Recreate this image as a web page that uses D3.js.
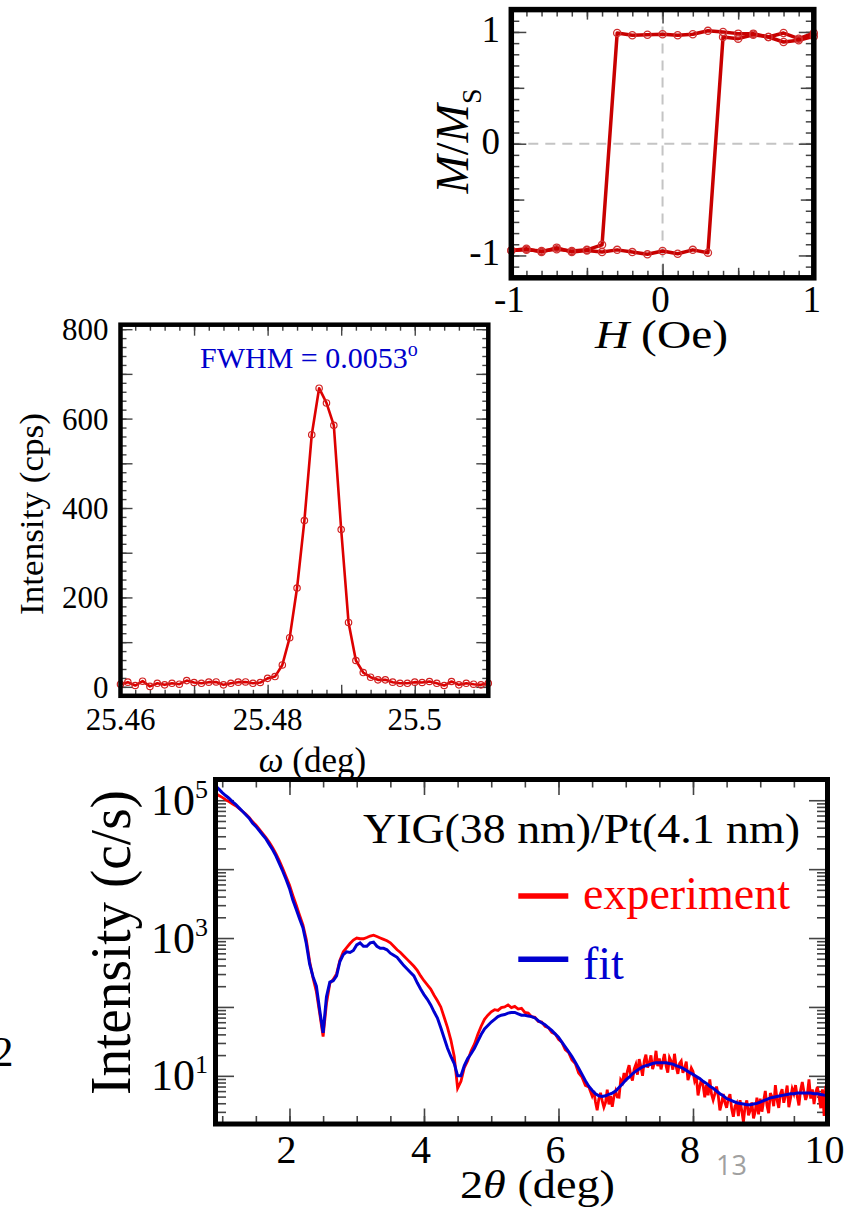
<!DOCTYPE html>
<html>
<head>
<meta charset="utf-8">
<script src="https://cdn.jsdelivr.net/npm/d3@7"></script>
<style>
  body { margin: 0; background: #fff; }
  svg { display: block; font-family: "Liberation Serif", "Times New Roman", serif; }
</style>
</head>
<body>
<svg id="canvas" width="854" height="1212"></svg>
<script>
// ---------- data ----------

// hysteresis loop, field sweep down then back up
const loopDownH = [1, 0.9, 0.8, 0.7, 0.6, 0.5, 0.4, 0.3, 0.2, 0.1, 0, -0.1, -0.2, -0.3, -0.4, -0.5, -0.6, -0.7, -0.8, -0.9, -1];
const loopDownM = [0.99, 0.94, 0.99, 0.955, 0.985, 0.985, 1.0, 1.01, 0.98, 0.97, 0.98, 0.975, 0.97, 0.99,
                   -0.905, -0.95, -0.96, -0.945, -0.96, -0.95, -0.955];
const loopUpH = [-1, -0.9, -0.8, -0.7, -0.6, -0.5, -0.4, -0.3, -0.2, -0.1, 0, 0.1, 0.2, 0.3, 0.4, 0.5, 0.6, 0.7, 0.8, 0.9, 1];
const loopUpM = [-0.955, -0.94, -0.97, -0.93, -0.97, -0.955, -0.97, -0.95, -0.97, -0.99, -0.96, -0.985, -0.95, -0.975,
                 0.955, 0.94, 0.975, 0.955, 0.91, 0.925, 0.96];

// rocking curve, omega from 25.460 in steps of 0.001 deg
const omegaStart = 25.46, omegaStep = 0.001;
const rockCps = [6, 10.5, 3, 12.7, 1, 8, 4.5, 8, 6, 14,
                 9.7, 8, 10.5, 11, 4.5, 8, 10.5, 11, 8, 9.7,
                 19, 23, 49, 110, 221, 372, 564, 668, 635, 585,
                 352, 144, 59, 32, 21.6, 15.7, 15.7, 10.5, 8, 8,
                 10.5, 9.7, 12, 8, 3, 12, 4.5, 8, 6, 4.5, 8];

// reflectivity fit, 2theta from 0.90 in steps of 0.05
const fitStart = 0.9, fitStep = 0.05;
const fitCounts = [
  162000, 145000, 129000, 117000, 107000, 95500, 87100, 77600, 69200, 61700,   // 0.90
  55000, 46800, 41700, 36300, 31600, 27500, 22900, 19100, 15500, 12000,        // 1.40
  9330, 7080, 5250, 3550, 2630, 1910, 1410, 832, 417, 275,                      // 1.90
  200, 89, 42, 141, 229, 240, 282, 457, 575, 631,                               // 2.40
  617, 661, 794, 851, 759, 759, 851, 871, 759, 708,                             // 2.90
  708, 676, 603, 562, 525, 457, 398, 355, 316, 282,                             // 3.40
  224, 182, 151, 129, 107, 85, 69, 50, 35.5, 25.1,                              // 3.90
  19.1, 15.1, 10, 10, 14.1, 17.8, 20.9, 25.1, 31.6, 39.8,                       // 4.40
  47.9, 53.7, 60.3, 66.1, 72.4, 75.9, 77.6, 81.3, 83.2, 83.2,                   // 4.90
  79.4, 75.9, 75.9, 74.1, 72.4, 69.2, 63.1, 58.9, 55.0, 50.1,                   // 5.40
  45.7, 40.7, 36.3, 30.9, 26.3, 22.4, 19.1, 15.8, 12.9, 10.5,                   // 5.90
  8.51, 7.08, 6.17, 5.50, 5.13, 5.01, 5.13, 5.37, 5.62, 6.03,                   // 6.40
  6.76, 7.59, 8.71, 9.55, 10.7, 11.7, 12.6, 13.5, 14.1, 14.5,                   // 6.90
  15.1, 15.5, 15.5, 15.5, 15.5, 15.1, 14.8, 14.1, 13.5, 12.9,                   // 7.40
  12.0, 11.2, 10.5, 9.77, 9.12, 8.32, 7.76, 7.08, 6.61, 6.03,                   // 7.90
  5.50, 5.13, 4.68, 4.47, 4.27, 4.07, 3.98, 3.89, 3.80, 3.80,                   // 8.40
  3.89, 3.98, 4.17, 4.37, 4.57, 4.79, 4.90, 5.01, 5.13, 5.25,                   // 8.90
  5.37, 5.50, 5.50, 5.62, 5.62, 5.62, 5.62, 5.62, 5.50, 5.50,                   // 9.40
  5.37, 5.25, 5.13                                                              // 9.90
];

// measured reflectivity, coarse part: 2theta 0.90 .. 6.45 step 0.05
const expStartA = 0.9, expStepA = 0.05;
const expCountsA = [
  126000, 117000, 110000, 102000, 95500, 89100, 83200, 75900, 69200, 63100,    // 0.90
  56200, 49000, 43700, 38000, 33100, 28800, 24500, 20400, 16600, 13200,        // 1.40
  10200, 7760, 5890, 4170, 3020, 2140, 1550, 955, 457, 263,                     // 1.90
  166, 79.4, 37.2, 112, 219, 251, 302, 479, 631, 724,                           // 2.40
  832, 933, 1000, 977, 977, 1020, 1070, 1100, 1050, 1000,                       // 2.90
  955, 912, 851, 759, 676, 617, 550, 490, 437, 389,                             // 3.40
  339, 282, 240, 209, 182, 148, 123, 100, 70.8, 50.1,                           // 3.90
  33.1, 19.1, 6.61, 8.32, 13.2, 16.6, 22.9, 28.8, 39.8, 52.5,                   // 4.40
  66.1, 75.9, 85.1, 91.2, 89.1, 97.7, 100, 107, 97.7, 102,                      // 4.90
  93.3, 95.5, 83.2, 81.3, 72.4, 70.8, 61.7, 60.3, 52.5, 50.1,                   // 5.40
  42.7, 40.7, 33.9, 30.9, 24.0, 21.9, 17.0, 15.1, 11.0, 9.55,                   // 5.90
  7.24, 6.92                                                                    // 6.40
];
// measured reflectivity, noisy tail: 2theta 6.500 .. 10.000 step 0.025
const expStartB = 6.5, expStepB = 0.025;
const expCountsB = [
  5.13, 6.04, 4.17, 3.17, 4.59, 5.66, 4.33, 3.51, 4.11, 6.31, 3.85, 5.11, 3.55, 5.02, 6.03, 4.93, 4.90, 8.69, 7.94, 11.0,        // 6.5
  8.36, 11.7, 14.3, 10.1, 8.55, 12.5, 14.6, 10.4, 17.5, 13.5, 10.0, 16.5, 20.3, 13.2, 15.5, 19.8, 12.5, 15.2, 23.1, 13.8,        // 7.0
  17.9, 12.4, 16.1, 20.8, 13.9, 11.1, 18.4, 16.3, 12.3, 20.9, 13.6, 10.7, 15.1, 16.4, 11.1, 12.9, 16.1, 8.65, 10.4, 13.0,        // 7.5
  11.6, 8.41, 9.59, 5.19, 6.98, 8.91, 7.21, 4.90, 7.31, 5.22, 8.91, 5.46, 4.47, 5.47, 6.98, 5.20, 3.15, 3.98, 5.47, 4.07,        // 8.0
  3.44, 4.68, 5.40, 3.34, 2.55, 3.61, 4.00, 2.61, 4.43, 3.14, 2.14, 3.62, 4.41, 2.68, 3.16, 4.10, 2.42, 3.01, 4.81, 2.75,        // 8.5
  4.68, 3.02, 4.27, 6.03, 3.72, 2.88, 5.62, 4.95, 3.63, 7.33, 4.47, 3.43, 5.50, 6.38, 4.07, 5.19, 7.24, 3.51, 4.68, 6.46,        // 9.0
  5.50, 7.33, 5.01, 3.72, 6.17, 8.13, 5.89, 4.47, 5.37, 8.91, 4.68, 6.38, 3.89, 5.75, 6.92, 4.95, 3.39, 6.38, 2.63, 7.16,        // 9.5
  2.29                                                                                                                            // 10.0
];

const yDecadeLabels = [1, 3, 5];
const legendNames = ['experiment', 'fit'];

// ---------- drawing ----------
const svg = d3.select('#canvas');

function addTicks(g, x, y, xSets, ySets, color, width) {
  const xr = x.range(), yr = y.range();
  xSets.forEach(s => {
    g.append('g').attr('transform', `translate(0,${yr[0]})`)
      .call(d3.axisBottom(x).tickValues(s.v).tickSize(-s.len).tickFormat(''));
    g.append('g').attr('transform', `translate(0,${yr[1]})`)
      .call(d3.axisTop(x).tickValues(s.v).tickSize(-s.len).tickFormat(''));
  });
  ySets.forEach(s => {
    g.append('g').attr('transform', `translate(${xr[0]},0)`)
      .call(d3.axisLeft(y).tickValues(s.v).tickSize(-s.len).tickFormat(''));
    g.append('g').attr('transform', `translate(${xr[1]},0)`)
      .call(d3.axisRight(y).tickValues(s.v).tickSize(-s.len).tickFormat(''));
  });
  g.selectAll('.domain').remove();
  g.selectAll('.tick line').attr('stroke', color).attr('stroke-width', width);
}

function frame(g, x, y, w) {
  const xr = x.range(), yr = y.range();
  g.append('rect')
    .attr('x', xr[0]).attr('y', yr[1])
    .attr('width', xr[1] - xr[0]).attr('height', yr[0] - yr[1])
    .attr('fill', 'none').attr('stroke', '#000').attr('stroke-width', w);
}

function clipFor(id, x, y) {
  const xr = x.range(), yr = y.range();
  svg.append('clipPath').attr('id', id).append('rect')
    .attr('x', xr[0]).attr('y', yr[1])
    .attr('width', xr[1] - xr[0]).attr('height', yr[0] - yr[1]);
  return `url(#${id})`;
}

// ===== panel 1: M/Ms vs H =====
{
  const x = d3.scaleLinear().domain([-1, 1]).range([511.3, 813.8]);
  const y = d3.scaleLinear().domain([-1.2, 1.2]).range([277.8, 9.6]);
  const g = svg.append('g');

  // dashed zero lines
  g.append('line').attr('x1', x(0)).attr('x2', x(0)).attr('y1', y(1.2)).attr('y2', y(-1.2))
    .attr('stroke', '#c4c4c4').attr('stroke-width', 2).attr('stroke-dasharray', '10,7');
  g.append('line').attr('x1', x(-1)).attr('x2', x(1)).attr('y1', y(0)).attr('y2', y(0))
    .attr('stroke', '#c4c4c4').attr('stroke-width', 2).attr('stroke-dasharray', '10,7');

  const tenths = d3.range(-10, 11).map(i => i / 10);
  const tenthsY = d3.range(-12, 13).map(i => i / 10);
  addTicks(g, x, y,
    [{ v: tenths, len: 7 }, { v: [-0.5, 0.5], len: 10 }, { v: [-1, 0, 1], len: 14 }],
    [{ v: tenthsY, len: 8 }, { v: [-0.5, 0.5], len: 13 }, { v: [-1, 0, 1], len: 15 }],
    '#444', 1.5);

  const down = loopDownH.map((h, i) => ({ h, m: loopDownM[i] }));
  const up = loopUpH.map((h, i) => ({ h, m: loopUpM[i] }));
  const line = d3.line().x(d => x(d.h)).y(d => y(d.m));
  [down, up].forEach(branch => {
    g.append('path').datum(branch).attr('d', line)
      .attr('fill', 'none').attr('stroke', '#c80000').attr('stroke-width', 3.5)
      .attr('stroke-linejoin', 'round');
  });
  g.selectAll('circle.pt').data(down.concat(up)).join('circle')
    .attr('class', 'pt')
    .attr('cx', d => x(d.h)).attr('cy', d => y(d.m)).attr('r', 3.6)
    .attr('fill', 'none').attr('stroke', '#d03030').attr('stroke-width', 1.3);

  frame(g, x, y, 5.5);

  g.selectAll('text.yl').data([1, 0, -1]).join('text').attr('class', 'yl')
    .attr('x', 500).attr('y', d => y(d) + 10)
    .attr('text-anchor', 'end').attr('font-size', 37)
    .text(d => d < 0 ? '-' + Math.abs(d) : d);
  g.selectAll('text.xl').data([-1, 0, 1]).join('text').attr('class', 'xl')
    .attr('x', d => x(d) - 2).attr('y', 311.5)
    .attr('text-anchor', 'middle').attr('font-size', 37)
    .text(d => d < 0 ? '-' + Math.abs(d) : d);

  const xt = g.append('text').attr('x', 661.5).attr('y', 348)
    .attr('text-anchor', 'middle').attr('font-size', 41)
    .attr('textLength', 133).attr('lengthAdjust', 'spacingAndGlyphs');
  xt.append('tspan').attr('font-style', 'italic').text('H');
  xt.append('tspan').text(' (Oe)');

  const yt = g.append('text').attr('transform', 'translate(468,141) rotate(-90)')
    .attr('text-anchor', 'middle').attr('font-size', 46);
  yt.append('tspan').attr('font-style', 'italic').text('M');
  yt.append('tspan').text('/');
  yt.append('tspan').attr('font-style', 'italic').text('M');
  yt.append('tspan').attr('font-size', 28).attr('dy', 13).text('S');
}

// ===== panel 2: rocking curve =====
{
  const x = d3.scaleLinear().domain([25.46, 25.51]).range([120.5, 488.3]);
  const y = d3.scaleLinear().domain([-20, 810]).range([695.8, 324.7]);
  const g = svg.append('g');

  addTicks(g, x, y,
    [{ v: d3.range(0, 26).map(i => 25.46 + i * 0.002), len: 6 },
     { v: d3.range(0, 6).map(i => 25.46 + i * 0.01), len: 11 }],
    [{ v: d3.range(-1, 41).map(i => i * 20), len: 6 },
     { v: d3.range(0, 9).map(i => i * 100), len: 12 }],
    '#444', 1.4);

  const pts = rockCps.map((c, i) => ({ w: omegaStart + i * omegaStep, c }));
  g.append('path').datum(pts)
    .attr('d', d3.line().x(d => x(d.w)).y(d => y(d.c)))
    .attr('fill', 'none').attr('stroke', '#dd0000').attr('stroke-width', 2.6)
    .attr('stroke-linejoin', 'round');
  g.selectAll('circle').data(pts).join('circle')
    .attr('cx', d => x(d.w)).attr('cy', d => y(d.c)).attr('r', 3.2)
    .attr('fill', 'none').attr('stroke', '#d02020').attr('stroke-width', 1.2);

  frame(g, x, y, 4.5);

  g.selectAll('text.yl').data([0, 200, 400, 600, 800]).join('text').attr('class', 'yl')
    .attr('x', 108.5).attr('y', d => y(d) + 11)
    .attr('text-anchor', 'end').attr('font-size', 31).text(d => d);
  g.selectAll('text.xl').data([25.46, 25.48, 25.5]).join('text').attr('class', 'xl')
    .attr('x', d => x(d)).attr('y', 730)
    .attr('text-anchor', 'middle').attr('font-size', 31).text(d => d);

  const ft = g.append('text').attr('x', 200).attr('y', 368.3)
    .attr('font-size', 30).attr('fill', '#0000cc');
  ft.append('tspan').text('FWHM = 0.0053');
  ft.append('tspan').attr('font-size', 20).attr('dy', -12).text('o');

  g.append('text').attr('transform', 'translate(42.5,514) rotate(-90)')
    .attr('text-anchor', 'middle').attr('font-size', 34)
    .attr('textLength', 202).attr('lengthAdjust', 'spacingAndGlyphs')
    .text('Intensity (cps)');

  const xt = g.append('text').attr('x', 312.5).attr('y', 771.5)
    .attr('text-anchor', 'middle').attr('font-size', 35);
  xt.append('tspan').attr('font-style', 'italic').text('\u03c9');
  xt.append('tspan').text(' (deg)');
}

// ===== panel 3: X-ray reflectivity =====
{
  const x = d3.scaleLinear().domain([0.9, 10]).range([215.5, 827.5]);
  const y = d3.scaleLog().domain([2, 200000]).range([1124, 779.5]);
  const g = svg.append('g');

  const minorY = [];
  d3.range(0, 6).forEach(k => d3.range(2, 10).forEach(m => {
    const v = m * Math.pow(10, k);
    if (v >= 2 && v <= 200000) minorY.push(v);
  }));
  addTicks(g, x, y,
    [{ v: d3.range(2, 20).map(i => i / 2), len: 8 }, { v: [2, 4, 6, 8], len: 15.5 }],
    [{ v: minorY, len: 10.5 }, { v: [10, 100, 1000, 10000, 100000], len: 18.5 }],
    '#444', 1.6);

  const clip = clipFor('clip3', x, y);
  const expPts = expCountsA.map((c, i) => ({ t: expStartA + i * expStepA, c }))
    .concat(expCountsB.map((c, i) => ({ t: expStartB + i * expStepB, c })));
  const fitPts = fitCounts.map((c, i) => ({ t: fitStart + i * fitStep, c }));
  const line = d3.line().x(d => x(d.t)).y(d => y(d.c));

  g.append('path').datum(expPts).attr('d', line).attr('clip-path', clip)
    .attr('fill', 'none').attr('stroke', '#ff0000').attr('stroke-width', 2.8);
  g.append('path').datum(fitPts).attr('d', line).attr('clip-path', clip)
    .attr('fill', 'none').attr('stroke', '#0000d0').attr('stroke-width', 3);

  frame(g, x, y, 5);

  // decade labels
  yDecadeLabels.forEach(k => {
    const t = g.append('text').attr('x', 208).attr('y', y(Math.pow(10, k)) + 14.5)
      .attr('text-anchor', 'end');
    t.append('tspan').attr('font-size', 44).text('10');
    t.append('tspan').attr('font-size', 26).attr('dy', -17).text(k);
  });
  g.selectAll('text.xl').data([2, 4, 6, 8, 10]).join('text').attr('class', 'xl')
    .attr('x', d => x(d) - 3).attr('y', 1163)
    .attr('text-anchor', 'middle').attr('font-size', 40).text(d => d);

  g.append('text').attr('x', 363).attr('y', 843)
    .attr('font-size', 43).attr('textLength', 437).attr('lengthAdjust', 'spacingAndGlyphs')
    .text('YIG(38 nm)/Pt(4.1 nm)');

  // legend
  const legColors = ['#ff0000', '#0000d0'];
  const legY = [896, 959.3];
  legendNames.forEach((name, i) => {
    g.append('line').attr('x1', 518.3).attr('x2', 568.3).attr('y1', legY[i]).attr('y2', legY[i])
      .attr('stroke', legColors[i]).attr('stroke-width', 5.5);
    g.append('text').attr('x', 583).attr('y', legY[i] + 12.5 + i * 7.5)
      .attr('font-size', 46).attr('fill', legColors[i]).text(name);
  });

  g.append('text').attr('transform', 'translate(130,942.5) rotate(-90)')
    .attr('text-anchor', 'middle').attr('font-size', 57)
    .attr('textLength', 305).attr('lengthAdjust', 'spacingAndGlyphs')
    .text('Intensity (c/s)');

  const xt = g.append('text').attr('x', 537.5).attr('y', 1198)
    .attr('text-anchor', 'middle').attr('font-size', 40)
    .attr('textLength', 155).attr('lengthAdjust', 'spacingAndGlyphs');
  xt.append('tspan').text('2');
  xt.append('tspan').attr('font-style', 'italic').text('\u03b8');
  xt.append('tspan').text(' (deg)');
}

// stray slide fragments around the figure
svg.append('text').attr('x', -8).attr('y', 1066).attr('font-size', 43).text('2');
svg.append('text').attr('x', 716).attr('y', 1175)
  .attr('font-family', '"Open Sans", "Noto Sans", sans-serif')
  .attr('font-size', 27).attr('fill', '#a0a0a0').text('13');
</script>
</body>
</html>
